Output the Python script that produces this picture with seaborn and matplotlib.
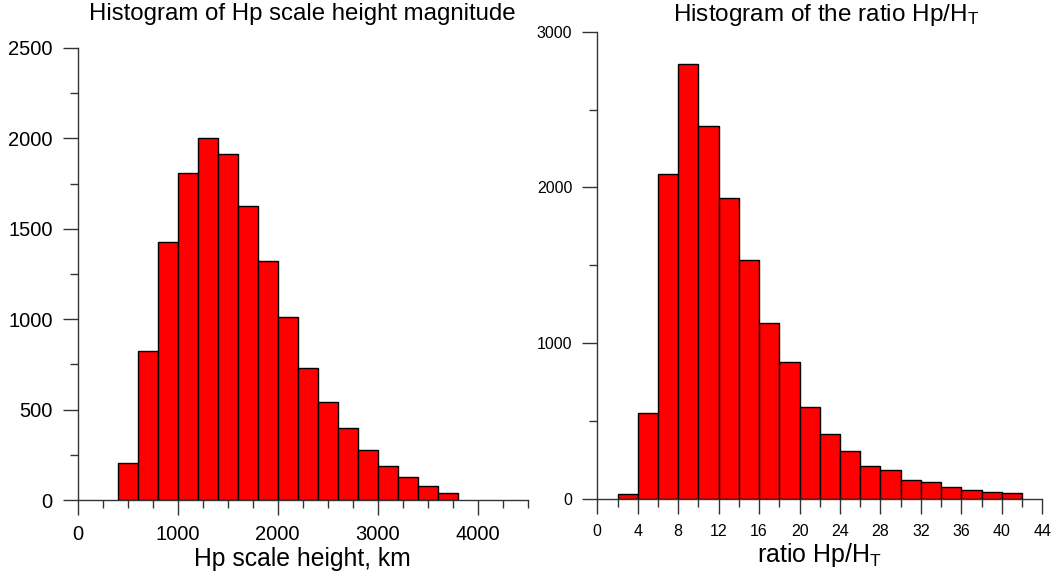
import numpy as np
import pandas as pd
import matplotlib
matplotlib.use("Agg")
import matplotlib.pyplot as plt
import seaborn as sns
from matplotlib.ticker import MultipleLocator

# ---- data ----
hp_bin_start = 400
hp_bin_width = 200
hp_counts = [205, 824, 1429, 1807, 2000, 1915, 1628, 1320, 1014, 728,
             540, 396, 275, 190, 127, 77, 39]

ratio_bin_start = 2
ratio_bin_width = 2
ratio_counts = [28, 550, 2086, 2792, 2394, 1930, 1531, 1127, 878, 589,
                414, 304, 212, 184, 120, 107, 73, 54, 46, 37]

left_title = "Histogram of Hp scale height magnitude"
right_title = r"Histogram of the ratio Hp/H$_\mathregular{T}$"
left_xlabel = "Hp scale height, km"
right_xlabel = r"ratio Hp/H$_\mathregular{T}$"

sns.set_style("ticks")
plt.rcParams["font.family"] = ["Liberation Sans", "DejaVu Sans"]
plt.rcParams["mathtext.default"] = "regular"
plt.rcParams["text.color"] = "black"
plt.rcParams["axes.labelcolor"] = "black"
plt.rcParams["xtick.labelcolor"] = "black"
plt.rcParams["ytick.labelcolor"] = "black"

fig = plt.figure(figsize=(10.55, 5.78), dpi=100)
axL = fig.add_axes([77.7 / 1055, 78 / 578, 450 / 1055, 452 / 578])
axR = fig.add_axes([597.3 / 1055, 79.3 / 578, 445 / 1055, 467 / 578])

AX_COLOR = "#333333"


def draw(ax, start, width, counts):
    counts = [float(c) for c in counts]
    edges = [float(start + width * i) for i in range(len(counts) + 1)]
    centers = [(edges[i] + edges[i + 1]) / 2 for i in range(len(counts))]
    df = pd.DataFrame({"x": centers, "w": counts})
    sns.histplot(data=df, x="x", weights="w", bins=edges, ax=ax,
                 color="#FF0000", alpha=1.0, edgecolor="black", linewidth=1.0)


draw(axL, hp_bin_start, hp_bin_width, hp_counts)
draw(axR, ratio_bin_start, ratio_bin_width, ratio_counts)

for ax in (axL, axR):
    ax.spines["top"].set_visible(False)
    ax.spines["right"].set_visible(False)
    for s in ("left", "bottom"):
        ax.spines[s].set_color(AX_COLOR)
        ax.spines[s].set_linewidth(1.0)
    ax.set_ylabel("")
    ax.tick_params(which="major", direction="out", length=11, width=1.0,
                   color=AX_COLOR, labelcolor="black", pad=7)
    ax.tick_params(which="minor", direction="out", length=5.5, width=1.0,
                   color=AX_COLOR)

# left panel
axL.set_xlim(0, 4500)
axL.set_ylim(0, 2500)
axL.xaxis.set_major_locator(MultipleLocator(1000))
axL.xaxis.set_minor_locator(MultipleLocator(250))
axL.yaxis.set_major_locator(MultipleLocator(500))
axL.yaxis.set_minor_locator(MultipleLocator(250))
axL.tick_params(axis="both", which="major", labelsize=14.5)
axL.set_title(left_title, fontsize=17.3, pad=20, color="black")
axL.set_xlabel(left_xlabel, fontsize=17.8, labelpad=2, color="black")

# right panel
axR.set_xlim(0, 44)
axR.set_ylim(0, 3000)
axR.xaxis.set_major_locator(MultipleLocator(4))
axR.xaxis.set_minor_locator(MultipleLocator(2))
axR.yaxis.set_major_locator(MultipleLocator(1000))
axR.yaxis.set_minor_locator(MultipleLocator(500))
axR.tick_params(axis="x", which="major", labelsize=11.5)
axR.tick_params(axis="y", which="major", labelsize=11.5)
axR.set_title(right_title, fontsize=17.5, pad=8, x=0.515, color="black")
axR.set_xlabel(right_xlabel, fontsize=18, labelpad=2, color="black")

fig.savefig("out.png", dpi=100, facecolor="white")
